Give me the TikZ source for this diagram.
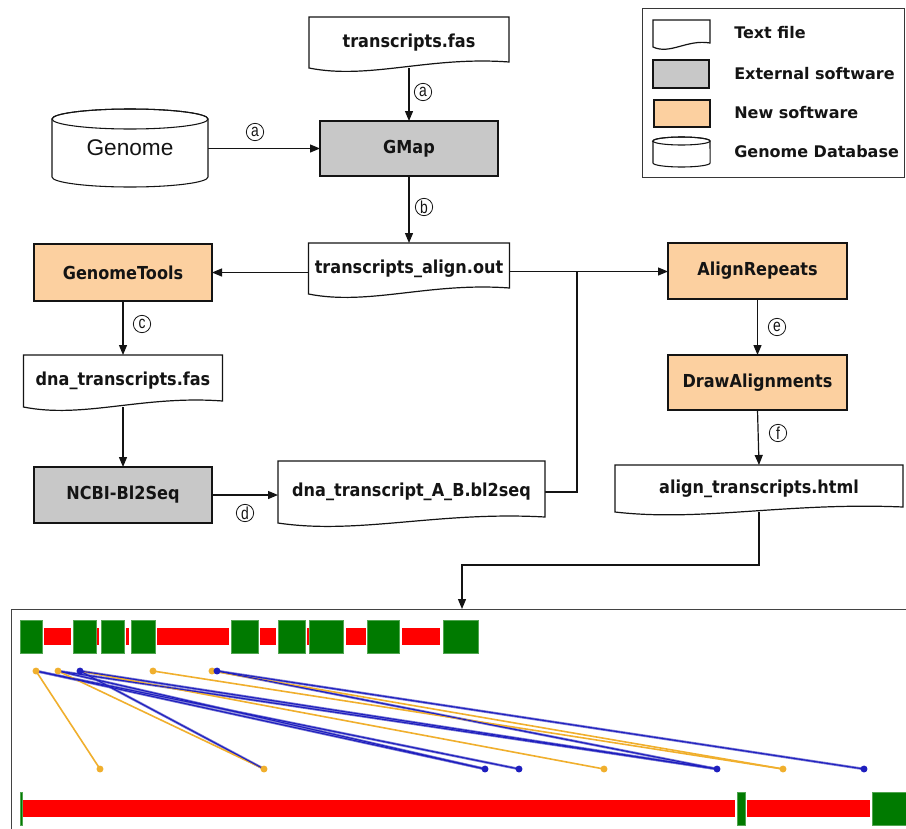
\documentclass[tikz,border=0pt]{standalone}
\usepackage{fontspec}
\setmainfont{DejaVu Sans}
\newfontfamily\boxfont{DejaVu Sans}[FakeStretch=0.9]
\newfontfamily\legfont{DejaVu Sans}
\newfontfamily\plainfont{Liberation Sans}
\newfontfamily\tagfont{Liberation Sans}[FakeStretch=0.8]
\usetikzlibrary{calc,arrows.meta}

\definecolor{extgray}{RGB}{200,200,200}
\definecolor{newsoft}{RGB}{252,208,160}
\definecolor{ink}{RGB}{20,20,20}
\definecolor{exon}{RGB}{0,122,0}
\definecolor{exonedge}{RGB}{80,165,80}
\definecolor{intron}{RGB}{255,0,0}
\definecolor{hitblue}{RGB}{30,30,190}
\definecolor{hitblueedge}{RGB}{125,125,215}
\definecolor{hitorange}{RGB}{240,175,45}

\pgfdeclarelayer{paper}
\pgfdeclarelayer{links}
\pgfdeclarelayer{outlines}
\pgfsetlayers{paper,links,outlines,main}

% file symbol: flat top, wavy bottom rising to the right
\newcommand\docoutline[2]{%
  \draw[ink, line width=0.9pt, fill=white] (#1.north west) -- (#1.north east)
    -- ($(#1.south east)+(0,-#2)$)
    .. controls ($(#1.south west)!0.6!(#1.south east)+(0,-2*#2)$)
       and ($(#1.south west)!0.3!(#1.south east)+(0,2*#2)$) .. (#1.south west) -- cycle;}

% database symbol drawn around a node whose north/south edges are the ellipse centres
\newcommand\dbcylinder[3]{%
  \draw[ink, line width=0.8pt, fill=white] (#1.north west) -- (#1.south west)
    arc[start angle=180, end angle=360, x radius=#2, y radius=#3]
    -- (#1.north east) arc[start angle=0, end angle=180, x radius=#2, y radius=#3] -- cycle;
  \draw[ink, line width=0.8pt] (#1.north) ellipse [x radius=#2, y radius=#3];}

\tikzset{
  sz/.style 2 args={minimum width=#1*0.75pt, minimum height=#2*0.75pt},
  base/.style={inner sep=0pt, outer sep=0pt, text=ink,
    font=\boxfont\bfseries\fontsize{13.4}{15}\selectfont},
  extbox/.style={base, draw=ink, line width=0.9pt, fill=extgray},
  newbox/.style={base, draw=ink, line width=0.9pt, fill=newsoft},
  filebox/.style={base},
  link/.style={draw=ink, line width=0.9pt},
  arrowlink/.style={link, -{Triangle[length=7.5pt,width=6pt]}},
  tag/.style={circle, draw=ink, line width=0.6pt, fill=white, inner sep=0pt,
    minimum size=13pt, text=ink, font=\tagfont\fontsize{13}{13}\selectfont},
  legtext/.style={anchor=west, inner sep=0pt, text=ink,
    font=\legfont\bfseries\fontsize{12}{14}\selectfont},
  hitb/.style={line width=1.9pt, hitblueedge},
  hitbcore/.style={line width=0.8pt, hitblue},
  hito/.style={line width=1.2pt, hitorange},
}

\begin{document}
\begin{tikzpicture}[x=0.75pt, y=-0.75pt]
\useasboundingbox (0,0) rectangle (906,828);
\begin{pgfonlayer}{paper}
  \fill[white] (0,0) rectangle (906,828);
\end{pgfonlayer}

% ---------- pipeline nodes ----------
\node[filebox, sz={200}{51}] (tfas) at (409,42.5) {transcripts.fas};
\node[extbox, sz={178}{55}] (gmap) at (409,148.5) {GMap};
\node[base, sz={156}{58}, font=\plainfont\fontsize{17}{20}\selectfont] (genome) at (130,148) {\raisebox{-3pt}{Genome}};
\node[filebox, sz={201}{51}] (align) at (409,268.5) {transcripts\_align.out};
\node[newbox, sz={178}{57}] (gtools) at (123,272.5) {GenomeTools};
\node[filebox, sz={199}{52}] (dnafas) at (123,381) {dna\_transcripts.fas};
\node[extbox, sz={178}{56}] (ncbi) at (123,495) {NCBI-Bl2Seq};
\node[filebox, sz={267}{62}] (bl2) at (411.5,492) {dna\_transcript\_A\_B.bl2seq};
\node[newbox, sz={179}{56}] (arep) at (757.5,271) {AlignRepeats};
\node[newbox, sz={179}{55}] (drawal) at (757.5,382.5) {DrawAlignments};
\node[filebox, sz={288}{47}] (html) at (759,488.5) {align\_transcripts.html};

% ---------- legend ----------
\node[draw=ink!85, line width=0.8pt, sz={262}{169}, anchor=north west, inner sep=0pt] (legend) at (642,8) {};
\node[filebox, sz={57}{27}] (lgfile) at (681.5,33.5) {};
\node[extbox, sz={56}{28}] (lgext) at (681,74) {};
\node[newbox, sz={56}{27}] (lgnew) at (682,113.5) {};
\node[base, sz={57}{22}] (lgdb) at (681.5,152) {};
\node[legtext] (lt1) at (734,33) {Text file};
\node[legtext] (lt2) at (734,74) {External software};
\node[legtext] (lt3) at (734,113) {New software};
\node[legtext] (lt4) at (734,152) {Genome Database};

% ---------- output panel ----------
\begin{scope}
\clip (0,0) rectangle (906,828);
\node[draw=ink!80, line width=0.8pt, sz={920}{240}, anchor=north west, inner sep=0pt] (panel) at (11,609) {};

% query track
\foreach \a/\b in {44/71, 97/99, 126/129, 157/229, 260/276, 307/309, 346/366, 402/440}
  \fill[intron] (\a,628) rectangle (\b,645);
\foreach \a/\b in {20/42, 73/96, 101/124, 131/155, 231/258, 278/305, 309/343, 367/399, 443/478}
  \filldraw[fill=exon, draw=exonedge, line width=0.4pt] (\a,620) rectangle (\b,653);

% subject track
\fill[intron] (21,800) rectangle (735,817);
\fill[intron] (747,800) rectangle (870,817);
\foreach \a/\b in {20/22, 737/745, 872/915}
  \filldraw[fill=exon, draw=exonedge, line width=0.4pt] (\a,792) rectangle (\b,825);

% hits between the tracks
\foreach \a/\b in {36/485, 58/485, 36/519, 58/717, 80/717, 217/717, 217/864, 80/264}
  \draw[hitb] (\a,671) -- (\b,769);
\foreach \a/\b in {36/100, 58/264, 80/604, 153/783, 212/783}
  \draw[hito] (\a,671) -- (\b,769);
\foreach \a/\b in {36/485, 58/485, 36/519, 58/717, 80/717, 217/717, 217/864, 80/264}
  \draw[hitbcore] (\a,671) -- (\b,769);
\foreach \x in {36, 58, 153, 212} \fill[hitorange] (\x,671) circle[radius=2.6pt];
\foreach \x in {80, 217} \fill[hitblue] (\x,671) circle[radius=2.6pt];
\foreach \x in {100, 264, 604, 783} \fill[hitorange] (\x,769) circle[radius=2.6pt];
\foreach \x in {485, 519, 717, 864} \fill[hitblue] (\x,769) circle[radius=2.6pt];
\end{scope}

% ---------- symbol outlines ----------
\begin{pgfonlayer}{outlines}
  \docoutline{tfas}{6}
  \docoutline{align}{6}
  \docoutline{dnafas}{6}
  \docoutline{bl2}{6}
  \docoutline{html}{5}
  \docoutline{lgfile}{4}
  \dbcylinder{genome}{58.5pt}{7.5pt}
  \dbcylinder{lgdb}{21.4pt}{3pt}
\end{pgfonlayer}

% ---------- connectors ----------
\coordinate (jn) at (577,271.5);
\coordinate (bend) at (462,565);
\begin{pgfonlayer}{links}
  \draw[arrowlink] (tfas.south) -- (gmap.north);
  \draw[arrowlink] (genome.east |- gmap.west) -- (gmap.west);
  \draw[arrowlink] (gmap.south) -- (align.north);
  \draw[arrowlink] (align.west |- gtools.east) -- (gtools.east);
  \draw[arrowlink] (gtools.south) -- (dnafas.north);
  \draw[arrowlink] (dnafas.south) -- (ncbi.north);
  \draw[arrowlink] (ncbi.east) -- (ncbi.east -| bl2.west);
  \draw[link] (bl2.east) -| (jn);
  \draw[arrowlink] (align.east |- jn) -- (arep.west |- jn);
  \draw[arrowlink] (arep.south) -- (drawal.north);
  \draw[arrowlink] (drawal.south) -- (html.north);
  \draw[arrowlink] (html.south) |- (bend) -- (bend |- panel.north);
\end{pgfonlayer}

% ---------- step tags ----------
\node[tag] (ta1) at (423,92) {a};
\node[tag] (ta2) at (255,132) {a};
\node[tag] (tb) at (424,207) {b};
\node[tag] (tc) at (142,324) {c};
\node[tag] (td) at (245,513) {d};
\node[tag] (te) at (777,327) {e};
\node[tag] (tf) at (778,433) {f};
\end{tikzpicture}
\end{document}
